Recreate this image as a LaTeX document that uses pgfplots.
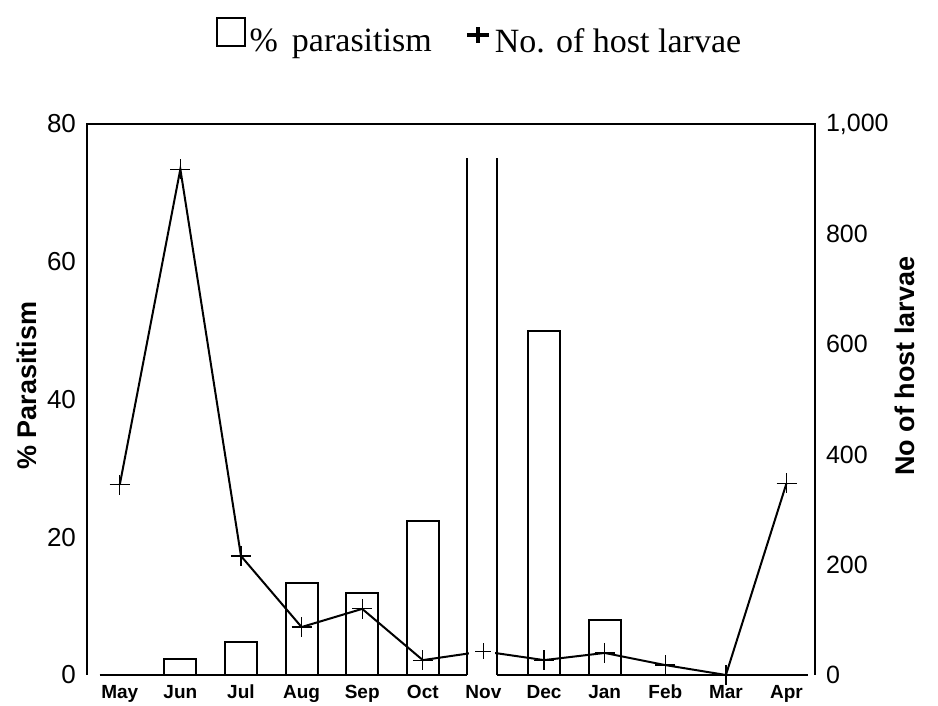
\documentclass[border=0pt]{standalone}
\usepackage{fontspec}
\setmainfont{Liberation Sans}
\newfontfamily\legfont{Liberation Serif}
\usepackage{pgfplots}
\pgfplotsset{compat=1.18}

\begin{document}
\begin{tikzpicture}
\useasboundingbox (-43.5pt,-15.5pt) rectangle (425.5pt,337.5pt);

% left axis: % parasitism (bars)
\begin{axis}[
  scale only axis, width=364pt, height=275.5pt,
  xmin=-0.54, xmax=11.47, ymin=0, ymax=80,
  axis line style={draw=none},
  clip=false,
  major tick length=0pt,
  xtick={0,...,11},
  xticklabels={May,Jun,Jul,Aug,Sep,Oct,Nov,Dec,Jan,Feb,Mar,Apr},
  xticklabel style={font=\bfseries\fontsize{9.5}{11}\selectfont, yshift=-1.5pt},
  ytick={0,20,40,60,80},
  ytick pos=left, xtick pos=bottom,
  yticklabel style={font=\fontsize{13}{15}\selectfont, xshift=-2pt},
  /pgf/number format/assume math mode=true,
  ylabel={\bfseries\% Parasitism},
  ylabel style={font=\fontsize{13.5}{15}\selectfont, at={(axis description cs:-0.082,0.525)}, anchor=center},
  legend columns=2,
  legend style={at={(0.176,1.156)}, anchor=west, draw=none, fill=none,
    font=\legfont\fontsize{17}{19}\selectfont, inner sep=0pt,
    /tikz/every even column/.append style={column sep=14.5pt}},
]
\addplot[ybar, bar width=16pt, draw=black, fill=white, line width=1pt,
  legend image code/.code={\draw[line width=1pt] (0pt,-2pt) rectangle (14pt,12pt);}]
  coordinates {(1,2.3) (2,4.8) (3,13.3) (4,11.9) (5,22.3) (7,50) (8,8)};
\addlegendentry{\% \,parasitism}
\addlegendimage{legend image code/.code={
  \draw[line width=2pt] (0pt,3.5pt) -- (11pt,3.5pt);
  \draw[line width=2pt] (5.5pt,-0.5pt) -- (5.5pt,7.5pt);}}
\addlegendentry{No. of host larvae}
% frame with a break at Nov
\draw[line width=0.8pt] (rel axis cs:0,0) -- (rel axis cs:0,1) -- (rel axis cs:1,1) -- (rel axis cs:1,0);
\draw[line width=1pt] (axis cs:-0.33,0) -- (axis cs:5.73,0);
\draw[line width=1pt] (axis cs:6.22,0) -- (axis cs:11.35,0);
\end{axis}

% right axis: number of host larvae (line)
\begin{axis}[
  scale only axis, width=364pt, height=275.5pt,
  xmin=-0.54, xmax=11.47, ymin=0, ymax=1000,
  axis x line=none, axis y line*=right,
  axis line style={draw=none},
  clip=false,
  major tick length=0pt,
  ytick={0,200,400,600,800,1000},
  yticklabel style={font=\fontsize{12.5}{14}\selectfont, xshift=2pt},
  /pgf/number format/assume math mode=true,
  ylabel={\bfseries No of host larvae},
  ylabel style={font=\fontsize{13.5}{15}\selectfont, at={(axis description cs:1.124,0.56)}, anchor=center, rotate=0},
]
\addplot[black, line width=1pt, mark=+, mark size=5pt, mark options={line width=0.6pt}]
  coordinates {(0,345) (1,918) (2,216) (3,87) (4,120) (5,27) (6,43) (7,27) (8,40) (9,18) (10,0) (11,348)};
\end{axis}

% overlay: break at Nov, the Nov value stands alone between the break lines
\begin{axis}[
  scale only axis, width=364pt, height=275.5pt,
  xmin=-0.54, xmax=11.47, ymin=0, ymax=1000,
  hide axis, clip=false,
]
\fill[white] (axis cs:5.755,-10) rectangle (axis cs:6.195,200);
\addplot[black, only marks, mark=+, mark size=4pt, mark options={line width=0.8pt}]
  coordinates {(6,43)};
\draw[line width=1pt] (axis cs:5.73,0) -- (axis cs:5.73,938);
\draw[line width=1pt] (axis cs:6.22,0) -- (axis cs:6.22,938);
\end{axis}
\end{tikzpicture}
\end{document}
